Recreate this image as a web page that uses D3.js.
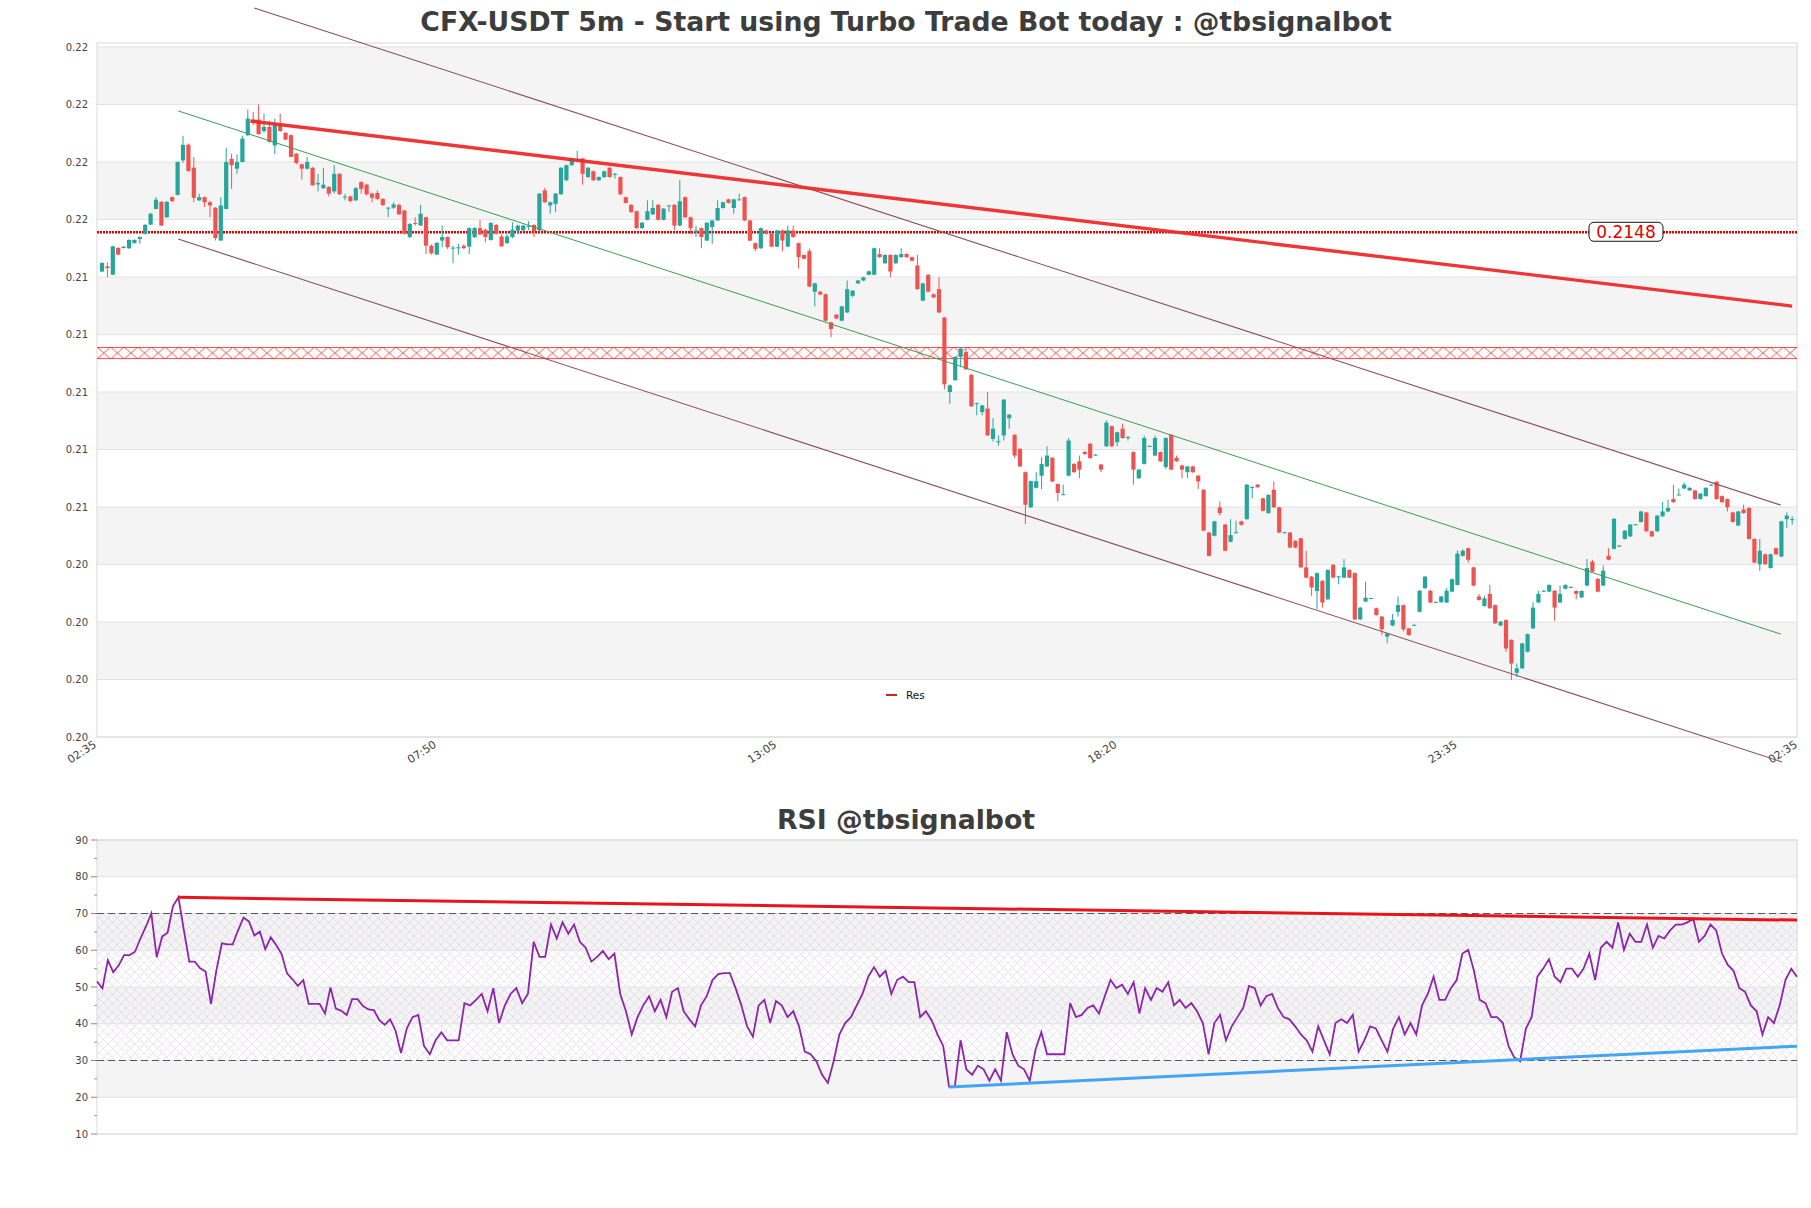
<!DOCTYPE html>
<html><head><meta charset="utf-8">
<script src="https://cdn.jsdelivr.net/npm/d3@7/dist/d3.min.js"></script>
<style>
body{margin:0;background:#fff}
svg{display:block}
text{font-family:"DejaVu Sans",sans-serif}
</style></head>
<body><div id="chart"></div>
<script>
// ---------------- DATA ----------------
const chartTitle = "CFX-USDT 5m - Start using Turbo Trade Bot today : @tbsignalbot";
const rsiTitle = "RSI @tbsignalbot";
const xTickIndex = [0, 63, 126, 189, 252, 315];
const xTickLabels = ["02:35", "07:50", "13:05", "18:20", "23:35", "02:35"];
const priceTicks = [0.199,0.2008,0.2026,0.2044,0.2062,0.208,0.2098,0.2116,0.2134,0.2152,0.217,0.2188,0.2206];
const rsiTicks = [10,20,30,40,50,60,70,80,90];
const resistanceLevel = 0.2148;
const resZone = [0.21083, 0.21121];
const legendLabels = ["Res"];

const candleOpen = [
0.21357,0.21373,0.21347,0.21431,0.21431,0.21430,0.21446,0.21459,0.21475,0.21504,
0.21553,0.21575,0.21527,0.21590,0.21597,0.21705,0.21754,0.21682,0.21580,0.21590,
0.21574,0.21557,0.21454,0.21553,0.21710,0.21679,0.21700,0.21784,0.21833,0.21833,
0.21797,0.21810,0.21752,0.21817,0.21791,0.21784,0.21726,0.21693,0.21679,0.21682,
0.21630,0.21618,0.21622,0.21608,0.21663,0.21590,0.21592,0.21580,0.21637,0.21629,
0.21601,0.21603,0.21584,0.21556,0.21557,0.21566,0.21548,0.21465,0.21509,0.21501,
0.21527,0.21438,0.21410,0.21454,0.21465,0.21431,0.21431,0.21438,0.21435,0.21465,
0.21493,0.21488,0.21456,0.21503,0.21467,0.21446,0.21465,0.21485,
0.21486,0.21499,0.21503,0.21486,0.21611,0.21564,0.21569,0.21599,0.21643,0.21690,
0.21708,0.21711,0.21653,0.21671,0.21643,0.21653,0.21682,0.21662,0.21653,0.21590,
0.21566,0.21546,0.21493,0.21519,0.21536,0.21566,0.21519,0.21563,0.21566,0.21501,
0.21590,0.21527,0.21480,0.21493,0.21454,0.21496,0.21517,0.21556,0.21583,0.21556,
0.21582,0.21590,0.21517,0.21446,0.21430,0.21486,0.21475,0.21435,0.21486,0.21435,
0.21486,0.21446,0.21409,0.21421,0.21294,0.21294,0.21286,0.21198,0.21222,0.21203,
0.21229,0.21281,0.21320,0.21329,0.21347,0.21347,0.21412,0.21383,0.21409,0.21383,
0.21402,0.21412,0.21402,0.21376,0.21266,0.21347,0.21286,0.21302,0.21213,
0.20980,0.21017,0.21090,0.21105,0.21034,0.20944,0.20917,0.20928,0.20833,0.20825,
0.20844,0.20898,0.20846,0.20802,0.20729,0.20619,0.20680,0.20718,0.20747,0.20774,
0.20692,0.20659,0.20718,0.20755,0.20763,0.20792,0.20818,0.20783,0.20753,0.20810,
0.20873,0.20823,0.20865,0.20838,0.20792,0.20710,0.20755,0.20810,0.20781,0.20792,
0.20745,0.20846,0.20774,0.20750,0.20729,0.20747,0.20718,0.20674,0.20540,0.20530,
0.20619,0.20565,0.20511,0.20540,0.20575,0.20582,0.20682,0.20690,0.20647,0.20601,
0.20674,0.20619,0.20540,0.20540,0.20514,0.20522,0.20431,0.20402,0.20357,0.20389,
0.20331,0.20439,0.20402,0.20399,0.20423,0.20413,0.20268,0.20324,
0.20334,0.20303,0.20277,0.20214,0.20249,0.20292,0.20313,0.20240,0.20250,0.20292,
0.20366,0.20358,0.20322,0.20322,0.20321,0.20355,0.20376,0.20467,0.20491,0.20431,
0.20340,0.20310,0.20348,0.20313,0.20249,0.20266,0.20204,0.20101,0.20115,0.20167,
0.20240,0.20321,0.20357,0.20355,0.20358,0.20321,0.20364,0.20369,0.20357,0.20337,
0.20374,0.20449,0.20395,0.20374,0.20467,0.20489,0.20498,0.20520,0.20528,0.20565,
0.20573,0.20603,0.20544,0.20544,0.20591,0.20606,0.20645,0.20658,0.20678,0.20672,
0.20672,0.20645,0.20654,0.20689,0.20699,0.20654,0.20645,0.20603,0.20562,0.20612,
0.20617,0.20520,0.20441,0.20472,0.20429,0.20491,0.20465,0.20582,0.20581];

const candleHigh = [
0.21386,0.21386,0.21438,0.21433,0.21437,0.21458,0.21458,0.21468,0.21506,0.21541,
0.21590,0.21578,0.21578,0.21592,0.21702,0.21782,0.21758,0.21716,0.21601,0.21592,
0.21578,0.21559,0.21590,0.21744,0.21726,0.21724,0.21782,0.21864,0.21857,0.21880,
0.21852,0.21829,0.21836,0.21852,0.21794,0.21787,0.21728,0.21695,0.21716,0.21684,
0.21663,0.21682,0.21624,0.21690,0.21665,0.21601,0.21595,0.21622,0.21640,0.21632,
0.21604,0.21611,0.21587,0.21559,0.21574,0.21569,0.21550,0.21509,0.21527,0.21566,
0.21529,0.21442,0.21449,0.21501,0.21467,0.21438,0.21444,0.21442,0.21496,0.21496,
0.21519,0.21491,0.21512,0.21506,0.21475,0.21475,0.21512,0.21504,
0.21504,0.21515,0.21505,0.21603,0.21619,0.21576,0.21603,0.21684,0.21692,0.21713,
0.21735,0.21713,0.21684,0.21673,0.21655,0.21673,0.21684,0.21666,0.21655,0.21592,
0.21568,0.21548,0.21512,0.21580,0.21580,0.21568,0.21556,0.21566,0.21568,0.21643,
0.21592,0.21529,0.21500,0.21495,0.21512,0.21519,0.21580,0.21576,0.21585,0.21585,
0.21601,0.21592,0.21519,0.21448,0.21495,0.21488,0.21477,0.21488,0.21488,0.21501,
0.21501,0.21448,0.21411,0.21429,0.21322,0.21296,0.21288,0.21200,0.21224,0.21250,
0.21329,0.21299,0.21331,0.21341,0.21360,0.21432,0.21430,0.21411,0.21411,0.21411,
0.21430,0.21414,0.21404,0.21409,0.21322,0.21349,0.21288,0.21339,0.21215,
0.21003,0.21092,0.21118,0.21115,0.21036,0.20947,0.20940,0.20980,0.20898,0.20844,
0.20958,0.20911,0.20848,0.20804,0.20731,0.20703,0.20729,0.20776,0.20810,0.20776,
0.20694,0.20690,0.20836,0.20757,0.20781,0.20796,0.20820,0.20786,0.20755,0.20891,
0.20875,0.20856,0.20881,0.20842,0.20794,0.20739,0.20844,0.20813,0.20844,0.20794,
0.20838,0.20848,0.20781,0.20752,0.20749,0.20749,0.20720,0.20676,0.20542,0.20577,
0.20637,0.20567,0.20582,0.20577,0.20577,0.20692,0.20685,0.20692,0.20649,0.20660,
0.20700,0.20621,0.20543,0.20542,0.20516,0.20524,0.20483,0.20404,0.20415,0.20391,
0.20425,0.20441,0.20405,0.20457,0.20425,0.20415,0.20307,0.20386,
0.20336,0.20305,0.20279,0.20226,0.20285,0.20340,0.20315,0.20242,0.20253,0.20360,
0.20404,0.20360,0.20324,0.20342,0.20366,0.20396,0.20484,0.20488,0.20493,0.20433,
0.20348,0.20342,0.20376,0.20315,0.20263,0.20268,0.20206,0.20130,0.20195,0.20224,
0.20322,0.20357,0.20360,0.20378,0.20360,0.20374,0.20378,0.20371,0.20359,0.20359,
0.20457,0.20455,0.20397,0.20437,0.20491,0.20585,0.20501,0.20548,0.20567,0.20567,
0.20608,0.20605,0.20546,0.20595,0.20636,0.20643,0.20690,0.20678,0.20697,0.20682,
0.20674,0.20664,0.20682,0.20692,0.20701,0.20656,0.20647,0.20605,0.20608,0.20627,
0.20619,0.20522,0.20520,0.20474,0.20474,0.20493,0.20577,0.20603,0.20591];

const candleLow = [
0.21355,0.21339,0.21346,0.21409,0.21429,0.21428,0.21445,0.21444,0.21473,0.21503,
0.21552,0.21500,0.21525,0.21574,0.21595,0.21698,0.21669,0.21574,0.21578,0.21559,
0.21527,0.21454,0.21454,0.21552,0.21616,0.21663,0.21699,0.21781,0.21815,0.21786,
0.21791,0.21761,0.21724,0.21795,0.21768,0.21715,0.21693,0.21645,0.21676,0.21626,
0.21608,0.21616,0.21592,0.21601,0.21597,0.21580,0.21574,0.21578,0.21601,0.21595,
0.21574,0.21582,0.21563,0.21527,0.21553,0.21535,0.21473,0.21462,0.21501,0.21500,
0.21412,0.21410,0.21409,0.21433,0.21428,0.21383,0.21410,0.21428,0.21412,0.21462,
0.21471,0.21449,0.21454,0.21473,0.21435,0.21444,0.21462,0.21475,
0.21483,0.21486,0.21465,0.21483,0.21572,0.21538,0.21543,0.21597,0.21640,0.21688,
0.21703,0.21629,0.21650,0.21640,0.21640,0.21650,0.21650,0.21648,0.21597,0.21570,
0.21541,0.21491,0.21491,0.21517,0.21534,0.21517,0.21517,0.21543,0.21486,0.21499,
0.21525,0.21475,0.21465,0.21430,0.21452,0.21444,0.21515,0.21554,0.21570,0.21538,
0.21580,0.21515,0.21452,0.21421,0.21428,0.21473,0.21433,0.21433,0.21420,0.21433,
0.21463,0.21367,0.21395,0.21308,0.21248,0.21283,0.21201,0.21151,0.21208,0.21201,
0.21227,0.21276,0.21318,0.21327,0.21345,0.21345,0.21400,0.21381,0.21339,0.21381,
0.21400,0.21400,0.21389,0.21300,0.21264,0.21292,0.21274,0.21227,0.20988,
0.20943,0.21015,0.21058,0.21049,0.20933,0.20907,0.20907,0.20842,0.20825,0.20812,
0.20828,0.20865,0.20773,0.20745,0.20567,0.20617,0.20678,0.20676,0.20745,0.20698,
0.20638,0.20657,0.20716,0.20727,0.20710,0.20783,0.20771,0.20781,0.20729,0.20808,
0.20808,0.20810,0.20834,0.20828,0.20690,0.20708,0.20753,0.20808,0.20779,0.20761,
0.20739,0.20735,0.20761,0.20710,0.20710,0.20727,0.20676,0.20544,0.20465,0.20528,
0.20593,0.20481,0.20509,0.20538,0.20562,0.20580,0.20647,0.20680,0.20606,0.20599,
0.20617,0.20538,0.20538,0.20491,0.20491,0.20429,0.20397,0.20342,0.20300,0.20305,
0.20329,0.20397,0.20378,0.20397,0.20397,0.20266,0.20266,0.20322,
0.20332,0.20280,0.20219,0.20193,0.20247,0.20277,0.20230,0.20217,0.20248,0.20290,
0.20364,0.20319,0.20320,0.20320,0.20319,0.20353,0.20374,0.20465,0.20446,0.20372,
0.20327,0.20308,0.20301,0.20254,0.20247,0.20167,0.20078,0.20088,0.20113,0.20165,
0.20238,0.20319,0.20355,0.20353,0.20264,0.20319,0.20362,0.20367,0.20331,0.20335,
0.20372,0.20416,0.20353,0.20372,0.20453,0.20487,0.20496,0.20518,0.20526,0.20563,
0.20571,0.20542,0.20526,0.20542,0.20589,0.20604,0.20633,0.20657,0.20676,0.20670,
0.20643,0.20643,0.20652,0.20688,0.20643,0.20633,0.20606,0.20571,0.20560,0.20599,
0.20518,0.20444,0.20420,0.20439,0.20427,0.20470,0.20463,0.20554,0.20565];

const candleClose = [
0.21384,0.21368,0.21436,0.21410,0.21435,0.21456,0.21456,0.21465,0.21503,0.21538,
0.21582,0.21501,0.21575,0.21578,0.21700,0.21754,0.21672,0.21588,0.21590,0.21574,
0.21564,0.21462,0.21564,0.21700,0.21690,0.21700,0.21773,0.21836,0.21822,0.21787,
0.21810,0.21763,0.21817,0.21797,0.21770,0.21716,0.21697,0.21679,0.21700,0.21627,
0.21634,0.21629,0.21601,0.21663,0.21599,0.21592,0.21578,0.21618,0.21616,0.21599,
0.21588,0.21584,0.21565,0.21557,0.21567,0.21536,0.21475,0.21506,0.21507,0.21538,
0.21438,0.21414,0.21447,0.21465,0.21433,0.21432,0.21433,0.21430,0.21493,0.21493,
0.21473,0.21465,0.21509,0.21475,0.21436,0.21467,0.21488,0.21501,
0.21501,0.21500,0.21483,0.21601,0.21574,0.21574,0.21601,0.21682,0.21690,0.21711,
0.21710,0.21663,0.21682,0.21643,0.21653,0.21671,0.21653,0.21663,0.21599,0.21572,
0.21543,0.21493,0.21510,0.21546,0.21556,0.21519,0.21554,0.21564,0.21501,0.21577,
0.21527,0.21493,0.21486,0.21465,0.21510,0.21517,0.21556,0.21574,0.21572,0.21583,
0.21583,0.21517,0.21454,0.21428,0.21493,0.21475,0.21435,0.21486,0.21454,0.21486,
0.21465,0.21402,0.21397,0.21310,0.21320,0.21285,0.21203,0.21177,0.21210,0.21248,
0.21302,0.21297,0.21329,0.21339,0.21358,0.21430,0.21402,0.21409,0.21357,0.21409,
0.21412,0.21402,0.21391,0.21302,0.21320,0.21294,0.21276,0.21229,0.21004,
0.21001,0.21090,0.21116,0.21051,0.20935,0.20945,0.20938,0.20844,0.20865,0.20826,
0.20956,0.20909,0.20781,0.20747,0.20627,0.20701,0.20701,0.20755,0.20781,0.20700,
0.20664,0.20660,0.20828,0.20729,0.20737,0.20786,0.20773,0.20784,0.20737,0.20884,
0.20810,0.20854,0.20836,0.20839,0.20737,0.20737,0.20836,0.20811,0.20836,0.20763,
0.20836,0.20737,0.20763,0.20737,0.20747,0.20729,0.20700,0.20546,0.20467,0.20575,
0.20601,0.20483,0.20532,0.20541,0.20564,0.20690,0.20683,0.20682,0.20608,0.20658,
0.20619,0.20540,0.20541,0.20493,0.20493,0.20431,0.20399,0.20368,0.20413,0.20321,
0.20423,0.20399,0.20403,0.20431,0.20399,0.20268,0.20305,0.20336,
0.20335,0.20282,0.20237,0.20224,0.20266,0.20313,0.20237,0.20219,0.20251,0.20358,
0.20402,0.20321,0.20323,0.20340,0.20358,0.20394,0.20474,0.20483,0.20455,0.20374,
0.20329,0.20334,0.20303,0.20256,0.20261,0.20177,0.20130,0.20115,0.20193,0.20222,
0.20305,0.20348,0.20358,0.20376,0.20305,0.20348,0.20376,0.20370,0.20348,0.20357,
0.20429,0.20418,0.20355,0.20421,0.20455,0.20583,0.20499,0.20546,0.20565,0.20566,
0.20606,0.20544,0.20528,0.20593,0.20606,0.20617,0.20635,0.20659,0.20690,0.20680,
0.20645,0.20662,0.20680,0.20690,0.20645,0.20635,0.20619,0.20573,0.20606,0.20601,
0.20520,0.20446,0.20483,0.20441,0.20472,0.20472,0.20575,0.20593,0.20582];

// trend lines: [candle index, price]
const resTrend = [[27.5, 0.21828], [313, 0.21249]];
const midTrend = [[14.1, 0.21860], [310.9, 0.20222]];
const upperChannel = [[28.2, 0.22182], [310.9, 0.20626]];
const lowerChannel = [[14.1, 0.21459], [311.1, 0.19822]];

const rsiValues = [
51.5,49.6,57.3,54.0,55.9,58.7,58.7,59.6,63.2,66.4,70.0,58.1,63.7,64.8,72.0,74.4,65.5,56.9,56.9,55.1,
54.2,45.4,54.6,61.9,61.6,61.6,65.5,68.9,67.8,64.0,65.1,60.3,63.5,61.4,59.0,53.7,52.1,50.3,51.9,45.4,
45.4,45.4,42.8,49.9,44.1,43.5,42.4,46.7,46.7,44.8,43.9,43.7,41.0,39.7,41.2,38.1,32.0,
38.7,41.8,42.4,33.9,31.7,35.5,37.7,35.5,35.5,35.5,45.6,45.0,46.5,48.1,43.4,49.7,40.2,45.0,48.1,49.7,
45.6,48.1,62.3,58.2,58.2,67.0,63.2,67.6,64.5,67.0,62.3,60.7,56.9,58.2,59.8,57.6,59.1,48.1,43.4,37.1,
41.8,45.0,47.5,43.4,46.5,41.8,48.7,49.7,43.4,41.2,39.3,45.0,47.5,51.9,53.5,53.8,53.8,49.7,45.0,39.3,
36.5,45.0,46.5,40.2,46.2,45.0,41.8,43.4,39.3,32.4,31.7,29.8,26.1,23.9,29.8,37.1,40.2,41.8,45.0,48.1,
52.8,55.4,52.8,54.4,48.1,51.9,52.8,51.3,51.3,41.8,43.4,40.9,37.1,33.9,22.9,22.9,35.5,27.6,26.1,28.6,
27.6,24.5,27.6,24.5,37.7,31.7,28.6,27.6,24.5,33.0,37.7,31.7,31.7,31.7,31.7,45.6,41.8,42.4,44.3,45.0,
42.8,47.5,51.9,49.7,50.6,48.1,51.3,42.8,49.7,46.5,49.7,48.7,51.3,45.0,46.5,44.3,45.6,43.4,40.2,31.7,
40.2,42.4,35.5,39.3,41.8,44.3,50.3,49.7,45.0,47.5,48.1,44.3,41.8,41.2,39.3,37.1,35.5,32.4,39.3,35.5,
31.7,40.2,41.2,40.2,42.4,32.4,35.5,39.3,38.7,35.5,32.4,38.7,41.8,37.1,40.2,37.1,45.0,48.1,52.8,46.5,
46.5,49.7,51.9,59.1,60.1,54.4,46.5,45.6,41.8,41.8,40.2,33.9,30.8,29.8,38.7,41.8,52.8,55.0,57.6,52.8,
51.3,55.0,55.0,52.8,55.0,59.1,51.9,60.7,62.3,60.7,67.6,60.1,64.5,62.3,62.3,67.0,60.7,63.9,63.2,65.4,
67.0,67.0,67.6,68.6,62.3,63.9,67.0,65.4,59.1,56.0,54.4,49.7,48.7,45.0,43.4,37.1,41.8,40.2,45.0,51.9,
55.0,52.8];
const rsiResTrend = [[15, 74.4], [rsiValues.length - 1, 68.2]];
const rsiSupTrend = [[151, 22.8], [rsiValues.length - 1, 33.9]];

// ---------------- DRAW ----------------
const W = 1811, H = 1208;
const svg = d3.select("#chart").append("svg").attr("width", W).attr("height", H);
const defs = svg.append("defs");

const nC = Math.min(candleOpen.length, candleHigh.length, candleLow.length, candleClose.length);
const candles = d3.range(nC).map(i => ({i, o: candleOpen[i], h: candleHigh[i], l: candleLow[i], c: candleClose[i]}));

const P = {left: 97, right: 1797, top: 43, bottom: 737};
const x = d3.scaleLinear().domain([0, 313]).range([102, 1792.2]);
const y = d3.scaleLinear().domain([priceTicks[0], priceTicks[priceTicks.length - 1]]).range([737, 47]);

const GREEN = "#26a69a", RED = "#ef5350", BAND = "#f4f4f4", GRID = "#e2e2e2", AX = "#444";

// title
svg.append("text").attr("x", 906).attr("y", 31).attr("text-anchor", "middle")
  .attr("font-size", 26.7).attr("font-weight", "bold").attr("fill", "#3d3d3d").text(chartTitle);

// bands
const gMain = svg.append("g");
for (let k = 0; k < priceTicks.length - 1; k++) {
  if (k % 2 === 1) {
    gMain.append("rect").attr("x", P.left).attr("width", P.right - P.left)
      .attr("y", y(priceTicks[k + 1])).attr("height", y(priceTicks[k]) - y(priceTicks[k + 1]))
      .attr("fill", BAND);
  }
}
gMain.selectAll("line.grid").data(priceTicks).join("line")
  .attr("x1", P.left).attr("x2", P.right).attr("y1", d => y(d)).attr("y2", d => y(d))
  .attr("stroke", GRID).attr("stroke-width", 1);
gMain.append("rect").attr("x", P.left).attr("y", P.top).attr("width", P.right - P.left)
  .attr("height", P.bottom - P.top).attr("fill", "none").attr("stroke", "#d8d8d8");

// y labels
gMain.selectAll("text.yl").data(priceTicks).join("text")
  .attr("x", 88).attr("y", d => y(d) + 3.5).attr("text-anchor", "end")
  .attr("font-size", 10).attr("fill", AX).text(d => d3.format(".2f")(d));

// x labels
gMain.selectAll("text.xl").data(xTickIndex).join("text")
  .attr("text-anchor", "end").attr("font-size", 11).attr("fill", AX)
  .attr("transform", d => `translate(${x(d) - 5},${746.5}) rotate(-33)`)
  .text((d, k) => xTickLabels[k]);

// resistance zone (hatched)
const zTop = y(resZone[1]), zBot = y(resZone[0]), zH = zBot - zTop;
const zp = defs.append("pattern").attr("id", "zoneHatch").attr("patternUnits", "userSpaceOnUse")
  .attr("x", P.left).attr("y", zTop).attr("width", 13.6).attr("height", zH);
zp.append("path").attr("d", `M0,0L13.6,${zH}M13.6,0L0,${zH}M0,0.5H13.6M0,${zH - 0.5}H13.6`)
  .attr("stroke", "#e53935").attr("stroke-width", 0.9).attr("fill", "none");
gMain.append("rect").attr("x", P.left).attr("width", P.right - P.left).attr("y", zTop).attr("height", zH)
  .attr("fill", "url(#zoneHatch)");

// resistance dotted line
gMain.append("line").attr("x1", P.left).attr("x2", P.right)
  .attr("y1", y(resistanceLevel)).attr("y2", y(resistanceLevel))
  .attr("stroke", "#e00000").attr("stroke-width", 2.6).attr("stroke-dasharray", "2,1");

// candles
const gC = svg.append("g");
gC.selectAll("line.wick").data(candles).join("line")
  .attr("x1", d => x(d.i)).attr("x2", d => x(d.i))
  .attr("y1", d => y(d.h)).attr("y2", d => y(d.l))
  .attr("stroke", d => d.c >= d.o ? GREEN : RED).attr("stroke-width", 1);
gC.selectAll("rect.body").data(candles).join("rect")
  .attr("x", d => x(d.i) - 2.1).attr("width", 4.2)
  .attr("y", d => y(Math.max(d.o, d.c)))
  .attr("height", d => Math.max(1, y(Math.min(d.o, d.c)) - y(Math.max(d.o, d.c))))
  .attr("fill", d => d.c >= d.o ? GREEN : RED);

// trend lines
const tl = (pts) => d3.line().x(p => x(p[0])).y(p => y(p[1]))(pts);
svg.append("path").attr("d", tl(midTrend)).attr("stroke", "#3a9d4f").attr("stroke-width", 1).attr("fill", "none");
svg.append("path").attr("d", tl(upperChannel)).attr("stroke", "#8c4a5e").attr("stroke-width", 1.1).attr("fill", "none");
svg.append("path").attr("d", tl(lowerChannel)).attr("stroke", "#8c4a5e").attr("stroke-width", 1.1).attr("fill", "none");
svg.append("path").attr("d", tl(resTrend)).attr("stroke", "#ee2a2a").attr("stroke-width", 3.4)
  .attr("fill", "none").attr("opacity", 0.95);

// level label
const lblX = 1626, lblY = y(resistanceLevel);
svg.append("rect").attr("x", lblX - 37).attr("y", lblY - 10).attr("width", 74).attr("height", 19)
  .attr("rx", 5).attr("fill", "#fff").attr("stroke", "#111").attr("stroke-width", 1);
svg.append("text").attr("x", lblX).attr("y", lblY + 6).attr("text-anchor", "middle")
  .attr("font-size", 17).attr("fill", "#e00000").text(d3.format(".4f")(resistanceLevel));

// legend
svg.append("line").attr("x1", 886).attr("x2", 897).attr("y1", 695).attr("y2", 695)
  .attr("stroke", "#c62828").attr("stroke-width", 2);
svg.append("text").attr("x", 906).attr("y", 698.5).attr("font-size", 10.5).attr("fill", "#111").text(legendLabels[0]);

// ---------------- RSI ----------------
svg.append("text").attr("x", 906).attr("y", 829).attr("text-anchor", "middle")
  .attr("font-size", 26.7).attr("font-weight", "bold").attr("fill", "#3d3d3d").text(rsiTitle);

const R = {left: 97, right: 1797, top: 840, bottom: 1134};
const yR = d3.scaleLinear().domain([10, 90]).range([R.bottom, R.top]);
const xR = d3.scaleLinear().domain([0, 56, rsiValues.length - 1]).range([R.left, 401, R.right]);
const gR = svg.append("g");
[20, 40, 60, 80].forEach(t => {
  gR.append("rect").attr("x", R.left).attr("width", R.right - R.left)
    .attr("y", yR(t + 10)).attr("height", yR(t) - yR(t + 10)).attr("fill", BAND);
});
const rp = defs.append("pattern").attr("id", "rsiHatch").attr("patternUnits", "userSpaceOnUse")
  .attr("width", 9).attr("height", 9);
rp.append("path").attr("d", "M0,0L9,9M9,0L0,9").attr("stroke", "#c4b2d6").attr("stroke-width", 0.6)
  .attr("fill", "none").attr("opacity", 0.8);
gR.append("rect").attr("x", R.left).attr("width", R.right - R.left).attr("y", yR(70))
  .attr("height", yR(30) - yR(70)).attr("fill", "url(#rsiHatch)").attr("opacity", 0.7);
gR.selectAll("line.g").data(rsiTicks).join("line")
  .attr("x1", R.left).attr("x2", R.right).attr("y1", d => yR(d)).attr("y2", d => yR(d))
  .attr("stroke", GRID);
gR.append("rect").attr("x", R.left).attr("y", R.top).attr("width", R.right - R.left)
  .attr("height", R.bottom - R.top).attr("fill", "none").attr("stroke", "#d8d8d8");
[30, 70].forEach(t => gR.append("line").attr("x1", R.left).attr("x2", R.right)
  .attr("y1", yR(t)).attr("y2", yR(t)).attr("stroke", "#555").attr("stroke-width", 1.1)
  .attr("stroke-dasharray", "7,4"));
// ticks
gR.selectAll("line.mj").data(rsiTicks).join("line")
  .attr("x1", 91).attr("x2", R.left).attr("y1", d => yR(d)).attr("y2", d => yR(d)).attr("stroke", "#888");
gR.selectAll("line.mn").data(d3.range(15, 90, 10)).join("line")
  .attr("x1", 94).attr("x2", R.left).attr("y1", d => yR(d)).attr("y2", d => yR(d)).attr("stroke", "#999");
gR.selectAll("text.rl").data(rsiTicks).join("text")
  .attr("x", 88).attr("y", d => yR(d) + 3.5).attr("text-anchor", "end")
  .attr("font-size", 10).attr("fill", AX).text(d => d);

gR.append("path").datum(rsiValues)
  .attr("d", d3.line().x((v, j) => xR(j)).y(v => yR(v)))
  .attr("fill", "none").attr("stroke", "#8e24aa").attr("stroke-width", 1.8);
const rl = (pts) => d3.line().x(p => xR(p[0])).y(p => yR(p[1]))(pts);
gR.append("path").attr("d", rl(rsiResTrend)).attr("stroke", "#e8141c").attr("stroke-width", 3).attr("fill", "none");
gR.append("path").attr("d", rl(rsiSupTrend)).attr("stroke", "#42a5f5").attr("stroke-width", 3).attr("fill", "none");
</script>
</body></html>
